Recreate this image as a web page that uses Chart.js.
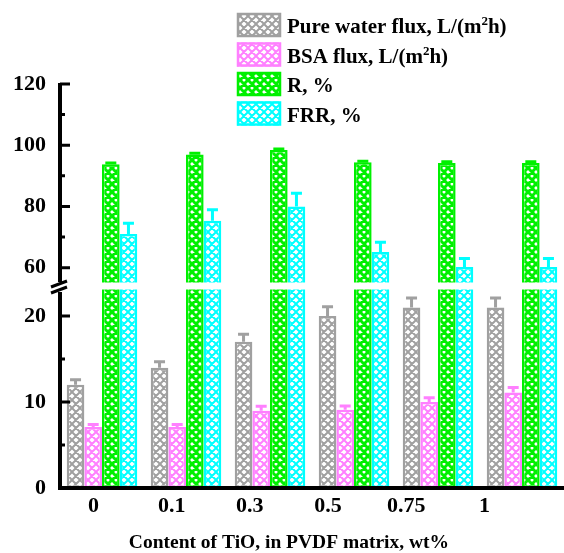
<!DOCTYPE html>
<html>
<head>
<meta charset="utf-8">
<script src="https://cdn.jsdelivr.net/npm/chart.js@4"></script>
<style>
  html, body { margin: 0; padding: 0; background: #fff; }
  #wrap { width: 564px; height: 553px; }
</style>
</head>
<body>
<div id="wrap"><canvas id="myChart-Membranas"></canvas></div>
<script>
const categories = ['0', '0.1', '0.3', '0.5', '0.75', '1'];

const pureWater = [12, 14, 17, 20, 21, 21];
const pureWaterErr = [0.6, 0.7, 0.9, 1.1, 1.1, 1.1];
const bsaFlux = [7.1, 7.1, 9, 9.1, 10, 11.1];
const bsaFluxErr = [0.3, 0.3, 0.5, 0.45, 0.5, 0.6];
const rejection = [93.8, 97, 98.4, 94.4, 94.2, 94.2];
const rejectionErr = [0.4, 0.4, 0.4, 0.4, 0.4, 0.4];
const frr = [71, 75.3, 80, 65.1, 60.2, 60.2];
const frrErr = [3.5, 3.6, 4.3, 3.2, 2.8, 2.8];

const lowTicks = [0, 10, 20];
const lowMinor = [5, 15];
const highTicks = [60, 80, 100, 120];
const highMinor = [70, 90, 110];
const lowMax = 23.5;
const highMin = 54;

const xTitle = 'Content of TiO, in PVDF matrix, wt%';
const fontFam = "'Liberation Serif', 'Times New Roman', serif";

const series = [
  { label: 'Pure water flux, L/(m²h)', data: pureWater, err: pureWaterErr, color: '#a0a0a0', lw: 2 },
  { label: 'BSA flux, L/(m²h)', data: bsaFlux, err: bsaFluxErr, color: '#ff80ff', lw: 2 },
  { label: 'R, %', data: rejection, err: rejectionErr, color: '#00f000', lw: 3 },
  { label: 'FRR, %', data: frr, err: frrErr, color: '#00ffff', lw: 2 }
];

// diamond lattice fill like the origin plot
function makePattern(color, lw) {
  const c = document.createElement('canvas');
  c.width = 8; c.height = 8;
  const g = c.getContext('2d');
  g.fillStyle = '#fff';
  g.fillRect(0, 0, 8, 8);
  g.strokeStyle = color;
  g.lineWidth = lw;
  g.beginPath();
  for (const o of [-8, 0, 8]) {
    g.moveTo(o, 0); g.lineTo(o + 8, 8);
    g.moveTo(o + 8, 0); g.lineTo(o, 8);
  }
  g.stroke();
  return g.createPattern(c, 'repeat');
}
series.forEach(s => { s.pattern = makePattern(s.color, s.lw); });

const datasets = [];
series.forEach((s, k) => {
  datasets.push({
    label: s.label,
    data: s.data.map(v => [0, Math.min(v, lowMax)]),
    yAxisID: 'yLow',
    stack: 's' + k,
    backgroundColor: s.pattern,
    borderColor: s.color,
    borderWidth: 2.5,
    borderSkipped: false,
    categoryPercentage: 0.84,
    barPercentage: 1
  });
});
series.forEach((s, k) => {
  datasets.push({
    label: s.label,
    data: s.data.map(v => (v > highMin ? [highMin, v] : null)),
    yAxisID: 'yHigh',
    stack: 's' + k,
    backgroundColor: s.pattern,
    borderColor: s.color,
    borderWidth: 2.5,
    borderSkipped: false,
    categoryPercentage: 0.84,
    barPercentage: 1
  });
});

const brokenAxis = {
  id: 'brokenAxis',
  afterDatasetsDraw(chart) {
    const ctx = chart.ctx;
    const lo = chart.scales.yLow, hi = chart.scales.yHigh, xl = chart.scales.xLab;
    const area = chart.chartArea;
    const nSeries = series.length;
    const brk = hi.bottom;
    ctx.save();

    // white gap through the bars
    ctx.fillStyle = '#fff';
    ctx.fillRect(area.left + 3, brk - 3.5, area.right - area.left, 7);

    // error bars
    series.forEach((s, k) => {
      s.data.forEach((v, i) => {
        const useHigh = v > highMin;
        const meta = chart.getDatasetMeta(useHigh ? k + nSeries : k);
        const bar = meta.data[i];
        const sc = useHigh ? hi : lo;
        const y0 = sc.getPixelForValue(v);
        const y1 = sc.getPixelForValue(v + s.err[i]);
        ctx.strokeStyle = s.color;
        ctx.lineWidth = 3;
        ctx.beginPath();
        ctx.moveTo(bar.x, y0);
        ctx.lineTo(bar.x, y1);
        ctx.moveTo(bar.x - 5.5, y1);
        ctx.lineTo(bar.x + 5.5, y1);
        ctx.stroke();
      });
    });

    // axes
    const ax = area.left;
    ctx.strokeStyle = '#000';
    ctx.lineWidth = 4;
    ctx.beginPath();
    ctx.moveTo(ax, hi.top - 1);
    ctx.lineTo(ax, brk - 4);
    ctx.moveTo(ax, brk + 6);
    ctx.lineTo(ax, lo.bottom + 2);
    ctx.moveTo(ax - 2, lo.bottom);
    ctx.lineTo(area.right, lo.bottom);
    ctx.stroke();

    // break marks
    ctx.lineWidth = 3;
    ctx.beginPath();
    ctx.moveTo(ax - 9, brk + 1); ctx.lineTo(ax + 7, brk - 5);
    ctx.moveTo(ax - 9, brk + 7); ctx.lineTo(ax + 7, brk + 1);
    ctx.stroke();

    // inner ticks
    ctx.lineWidth = 3;
    ctx.beginPath();
    lowTicks.filter(v => v > 0).forEach(v => {
      const y = lo.getPixelForValue(v);
      ctx.moveTo(ax, y); ctx.lineTo(ax + 10, y);
    });
    highTicks.forEach(v => {
      const y = hi.getPixelForValue(v);
      ctx.moveTo(ax, y); ctx.lineTo(ax + 10, y);
    });
    lowMinor.forEach(v => {
      const y = lo.getPixelForValue(v);
      ctx.moveTo(ax, y); ctx.lineTo(ax + 5, y);
    });
    highMinor.forEach(v => {
      const y = hi.getPixelForValue(v);
      ctx.moveTo(ax, y); ctx.lineTo(ax + 5, y);
    });
    ctx.stroke();

    // x title, centred under the labels
    ctx.fillStyle = '#000';
    ctx.font = 'bold 19.5px ' + fontFam;
    ctx.textAlign = 'center';
    ctx.textBaseline = 'alphabetic';
    ctx.fillText(xTitle, xl.getPixelForValue((categories.length - 1) / 2), chart.height - 5);

    // legend
    const lx = 237, ly = 13, step = 29.5;
    series.forEach((s, k) => {
      const top = ly + k * step;
      ctx.fillStyle = s.pattern;
      ctx.fillRect(lx, top, 44, 24);
      ctx.strokeStyle = s.color;
      ctx.lineWidth = 2.5;
      ctx.strokeRect(lx + 1, top + 1, 42, 22);
      ctx.fillStyle = '#000';
      ctx.textAlign = 'left';
      let tx = lx + 50;
      const base = top + 20;
      const parts = s.label.split('²');
      parts.forEach((p, j) => {
        ctx.font = 'bold 21px ' + fontFam;
        ctx.fillText(p, tx, base);
        tx += ctx.measureText(p).width;
        if (j < parts.length - 1) {
          ctx.font = 'bold 13px ' + fontFam;
          ctx.fillText('2', tx, base - 8);
          tx += ctx.measureText('2').width;
        }
      });
    });
    ctx.restore();
  }
};

const tickFont = { family: fontFam, size: 22, weight: 'bold' };

new Chart(document.getElementById('myChart-Membranas'), {
  type: 'bar',
  data: { labels: categories, datasets: datasets },
  options: {
    responsive: true,
    maintainAspectRatio: false,
    animation: false,
    layout: { padding: { top: 84, left: 0, right: 0, bottom: 0 } },
    plugins: { legend: { display: false }, tooltip: { enabled: false } },
    scales: {
      x: { type: 'category', display: false, offset: true },
      xLab: {
        type: 'linear',
        axis: 'x',
        position: 'bottom',
        bounds: 'data',
        offset: false,
        min: -0.428,
        max: 6.017,
        grid: { display: false, drawTicks: false, offset: false },
        border: { display: false },
        ticks: {
          padding: 5,
          color: '#000',
          font: tickFont,
          autoSkip: false,
          maxRotation: 0,
          callback: v => (categories[v] !== undefined ? categories[v] : '')
        },
        afterBuildTicks: s => { s.ticks = categories.map((c, i) => ({ value: i })); },
        afterFit: s => { s.height = 65; }
      },
      yLow: {
        type: 'linear',
        position: 'left',
        stack: 'v',
        stackWeight: 1,
        stacked: false,
        min: 0,
        max: lowMax,
        grid: { display: false, drawTicks: false },
        border: { display: false },
        ticks: { padding: 14, color: '#000', font: tickFont },
        afterBuildTicks: s => { s.ticks = lowTicks.map(v => ({ value: v })); },
        afterFit: s => { s.width = 60; }
      },
      yHigh: {
        type: 'linear',
        position: 'left',
        stack: 'v',
        stackWeight: 1,
        stacked: false,
        min: highMin,
        max: 120,
        grid: { display: false, drawTicks: false },
        border: { display: false },
        ticks: { padding: 14, color: '#000', font: tickFont },
        afterBuildTicks: s => { s.ticks = highTicks.map(v => ({ value: v })); },
        afterFit: s => { s.width = 60; }
      }
    }
  },
  plugins: [brokenAxis]
});
</script>
</body>
</html>
